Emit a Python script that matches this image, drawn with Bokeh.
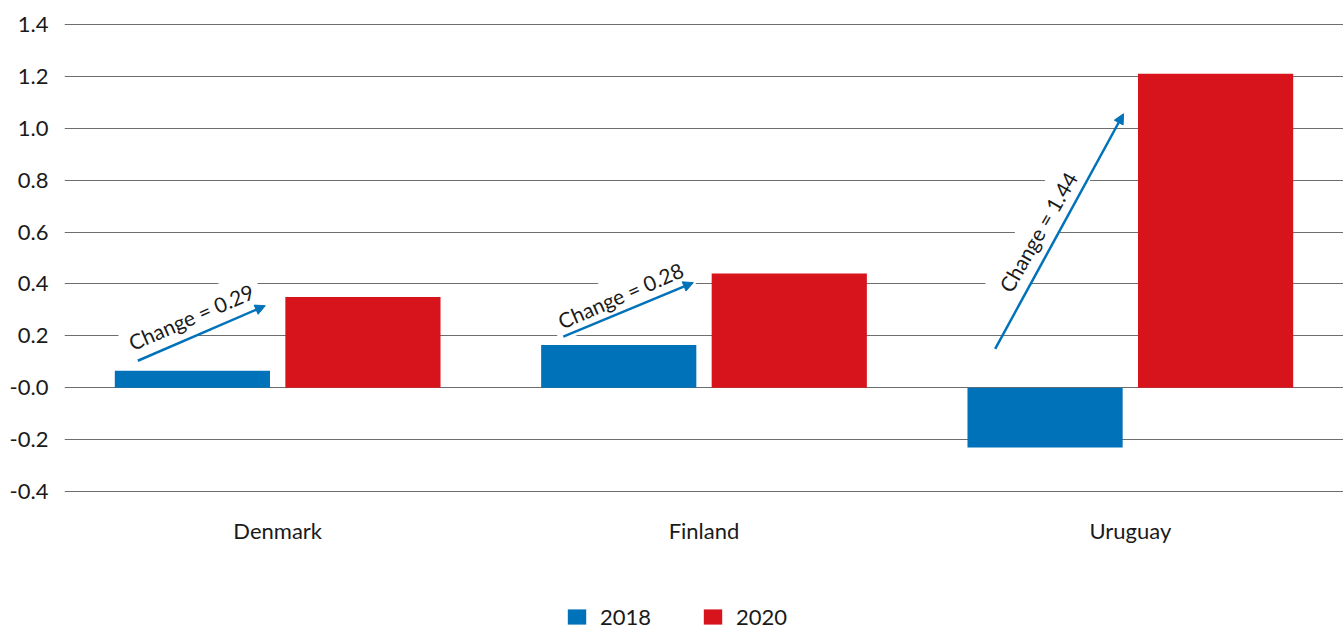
import numpy as np
from bokeh.plotting import figure
from bokeh.models import (ColumnDataSource, Arrow, NormalHead, FixedTicker,
                          CustomJSTickFormatter, Legend)
from bokeh.embed import file_html
from bokeh.resources import INLINE
from bokeh.core.properties import value

# ---- data ----
countries = ["Denmark", "Finland", "Uruguay"]
years = ["2018", "2020"]
values_2018 = [0.065, 0.165, -0.23]
values_2020 = [0.35, 0.44, 1.21]
y_ticks = [-0.4, -0.2, 0.0, 0.2, 0.4, 0.6, 0.8, 1.0, 1.2, 1.4]

# annotations
change_labels = ["Change = 0.29", "Change = 0.28", "Change = 1.44"]
arrow_y_start = [0.104, 0.197, 0.15]
arrow_y_end = [0.316, 0.405, 1.056]
label_y = [0.274, 0.357, 0.601]
label_angle = [23.5, 23.5, 60.0]

# ---- styling / layout ----
BLUE = "#0072b9"
RED = "#d7141b"
FONT = "Lato"
TXT = "#1a1a1a"
FS = "22px"
BAR_OFFSET = 0.2
BAR_WIDTH = 0.364
arrow_x_start_off = [-0.328, -0.33, -0.317]
arrow_x_end_off = [-0.029, -0.025, -0.016]
label_x_off = [-0.203, -0.196, -0.217]
CATEGORY_LABEL_Y = -0.552   # where the category names sit, below the lowest gridline

centers = np.arange(len(countries)) + 0.5

p = figure(width=1343, height=631, x_range=(0, 3), y_range=(-0.9397, 1.4039),
           output_backend="svg", toolbar_location=None, x_axis_location=None,
           min_border_left=64, min_border_right=0, min_border_top=23, min_border_bottom=0)
p.outline_line_color = None
p.background_fill_color = "white"
p.border_fill_color = "white"

# grid
p.xgrid.visible = False
p.ygrid.ticker = FixedTicker(ticks=y_ticks)
p.ygrid.grid_line_color = "#6e6e6e"
p.ygrid.grid_line_width = 1

# y axis
p.yaxis.ticker = FixedTicker(ticks=y_ticks)
p.yaxis.formatter = CustomJSTickFormatter(code="return Math.abs(tick) < 1e-9 ? '-0.0' : tick.toFixed(1);")
p.yaxis.axis_line_color = None
p.yaxis.major_tick_line_color = None
p.yaxis.minor_tick_line_color = None
p.yaxis.major_label_standoff = 10
p.yaxis.major_label_text_font = FONT
p.yaxis.major_label_text_font_size = FS
p.yaxis.major_label_text_color = TXT

# category labels
csrc = ColumnDataSource(dict(x=centers, y=[CATEGORY_LABEL_Y] * len(countries), text=countries))
p.text(x="x", y="y", text="text", source=csrc, text_font=value(FONT), text_font_size=FS,
       text_align="center", text_baseline="middle", text_color=TXT)

# bars
src18 = ColumnDataSource(dict(x=centers - BAR_OFFSET, top=values_2018))
src20 = ColumnDataSource(dict(x=centers + BAR_OFFSET, top=values_2020))
r18 = p.vbar(x="x", top="top", bottom=0, width=BAR_WIDTH, source=src18,
             fill_color=BLUE, line_color=None)
r20 = p.vbar(x="x", top="top", bottom=0, width=BAR_WIDTH, source=src20,
             fill_color=RED, line_color=None)

# change labels
tsrc = ColumnDataSource(dict(x=centers + np.array(label_x_off), y=label_y,
                             text=change_labels, angle=label_angle))
p.text(x="x", y="y", text="text", angle="angle", angle_units="deg", source=tsrc,
       text_font=value(FONT), text_font_size="21px", text_align="center",
       text_baseline="middle", text_color=TXT,
       background_fill_color="white", padding=7)

# arrows
asrc = ColumnDataSource(dict(x0=centers + np.array(arrow_x_start_off), y0=arrow_y_start,
                             x1=centers + np.array(arrow_x_end_off), y1=arrow_y_end))
p.add_layout(Arrow(end=NormalHead(size=10, fill_color=BLUE, line_color=BLUE),
                   x_start="x0", y_start="y0", x_end="x1", y_end="y1", source=asrc,
                   line_color=BLUE, line_width=2.5))

# legend (inside the lower, empty part of the frame)
lg = Legend(items=[(years[0], [r18]), (years[1], [r20])],
            location=(501, 1), orientation="horizontal",
            glyph_width=23, glyph_height=19, label_standoff=12, spacing=50,
            padding=0, margin=0, border_line_color=None, background_fill_alpha=0,
            label_text_font=FONT, label_text_font_size=FS, label_text_color=TXT)
p.add_layout(lg, "center")

open("out.html", "w").write(file_html(p, INLINE))
